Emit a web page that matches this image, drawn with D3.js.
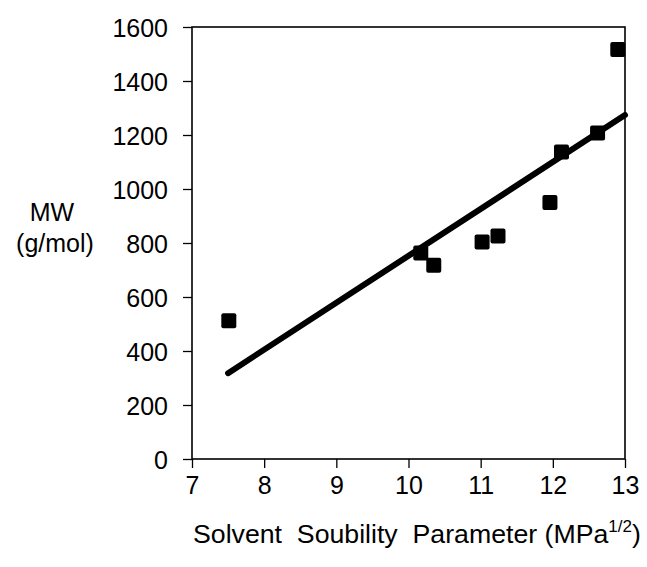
<!DOCTYPE html>
<html>
<head>
<meta charset="utf-8">
<script src="https://cdn.jsdelivr.net/npm/d3@7"></script>
<style>
  body { margin: 0; background: #fff; }
  svg { font-family: "Liberation Sans", Arial, sans-serif; }
  .tick text { font-size: 25px; fill: #000; }
  .tick line { stroke: #000; stroke-width: 1.3; }
</style>
</head>
<body>
<svg width="647" height="567"></svg>
<script>
const svg = d3.select("svg"),
    width = +svg.attr("width"),
    height = +svg.attr("height");

// measured points (solubility parameter vs MW)
const solventParam = [7.51, 10.17, 10.35, 11.02, 11.24, 11.96, 12.12, 12.62, 12.90];
const molWeight = [512, 763, 718, 804, 826, 950, 1137, 1207, 1517];

// linear fit, two end points
const fitX = [7.5, 13];
const fitY = [318, 1274];

const xTicks = [7, 8, 9, 10, 11, 12, 13];
const yTicks = [0, 200, 400, 600, 800, 1000, 1200, 1400, 1600];

const margin = { left: 192, right: 22, top: 27, bottom: 108 };

const x = d3.scaleLinear()
    .domain([7, 13])
    .range([margin.left, width - margin.right]);

const y = d3.scaleLinear()
    .domain([0, 1600])
    .range([height - margin.bottom, margin.top]);

// axes
const xAxis = svg.append("g")
    .attr("transform", `translate(0,${y(0)})`)
    .call(d3.axisBottom(x).tickValues(xTicks).tickFormat(d3.format("d"))
        .tickSize(9).tickPadding(8));
xAxis.select(".domain").remove();

const yAxis = svg.append("g")
    .attr("transform", `translate(${x(7)},0)`)
    .call(d3.axisLeft(y).tickValues(yTicks).tickFormat(d3.format("d"))
        .tickSize(9).tickPadding(15));
yAxis.select(".domain").remove();
yAxis.selectAll(".tick text").attr("dy", "0.36em");

// plot frame
svg.append("rect")
    .attr("x", x(7))
    .attr("y", y(1600))
    .attr("width", x(13) - x(7))
    .attr("height", y(0) - y(1600))
    .attr("fill", "none")
    .attr("stroke", "#000")
    .attr("stroke-width", 1.6);

// fit line
const fit = fitX.map((v, i) => [v, fitY[i]]);
svg.append("path")
    .datum(fit)
    .attr("fill", "none")
    .attr("stroke", "#000")
    .attr("stroke-width", 6)
    .attr("stroke-linecap", "round")
    .attr("d", d3.line().x(d => x(d[0])).y(d => y(d[1])));

// square markers
const sz = 15;
svg.append("g")
    .selectAll("rect")
    .data(solventParam.map((v, i) => ({ x: v, y: molWeight[i] })))
    .enter().append("rect")
    .attr("x", d => x(d.x) - sz / 2)
    .attr("y", d => y(d.y) - sz / 2)
    .attr("width", sz)
    .attr("height", sz)
    .attr("rx", 2)
    .attr("fill", "#000");

// y label
svg.append("text")
    .attr("x", 52)
    .attr("y", 221)
    .attr("text-anchor", "middle")
    .attr("font-size", 25)
    .text("MW");
svg.append("text")
    .attr("x", 55)
    .attr("y", 252)
    .attr("text-anchor", "middle")
    .attr("font-size", 25)
    .text("(g/mol)");

// x label
const xl = svg.append("text")
    .attr("x", 193)
    .attr("y", 543)
    .attr("font-size", 26.7)
    .attr("xml:space", "preserve")
    .style("white-space", "pre");
xl.append("tspan").text("Solvent  Soubility  Parameter (MPa");
xl.append("tspan").attr("font-size", 17).attr("dy", -11).text("1/2");
xl.append("tspan").attr("dy", 11).text(")");
</script>
</body>
</html>
